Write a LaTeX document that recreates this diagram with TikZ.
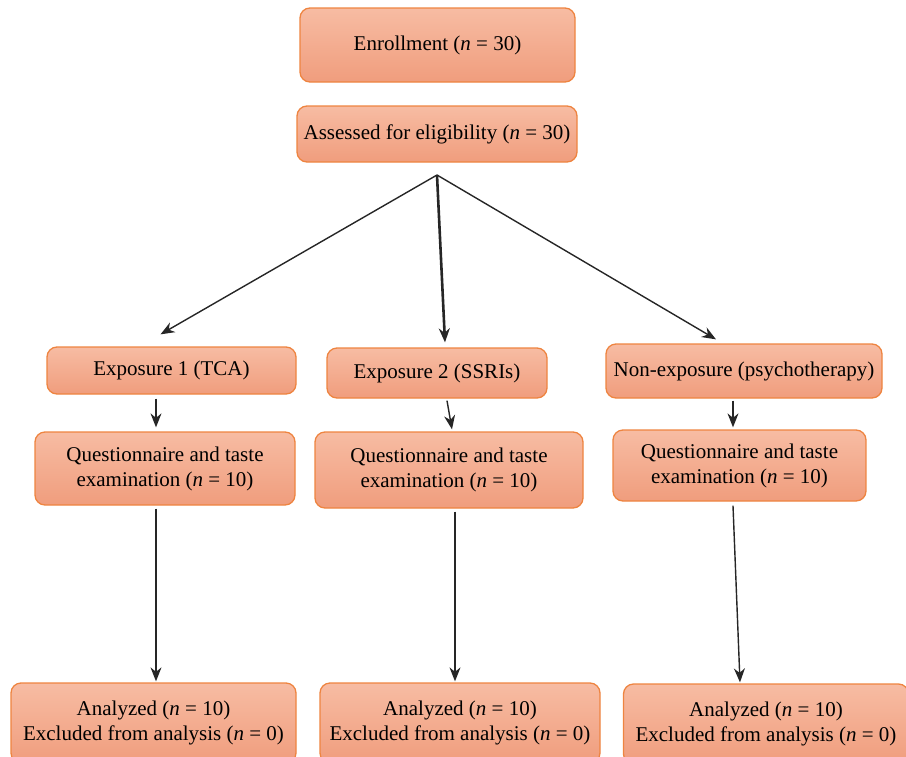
\documentclass[tikz,border=0pt]{standalone}
\usepackage{fontspec}
\setmainfont{Liberation Serif}
\usepackage{tikz}
\usetikzlibrary{arrows.meta, calc}

\definecolor{boxtop}{HTML}{F7BCA3}
\definecolor{boxbot}{HTML}{F09D7D}
\definecolor{boxedge}{HTML}{EE8440}

\tikzset{
  stage/.style={rectangle, rounded corners=10pt, draw=boxedge, line width=1.3pt,
    top color=boxtop, bottom color=boxbot, align=center, inner sep=0pt,
    font=\fontsize{21}{25}\selectfont},
  flow/.style={draw=black!85, line width=1.4pt, -{Stealth[length=14pt,width=11pt]}},
}

\begin{document}
\begin{tikzpicture}[x=1pt,y=-1pt]
    \useasboundingbox (0,0) rectangle (906,756);

    \node[stage, minimum width=275pt, minimum height=74pt] (enroll) at (437.5,45) {Enrollment (\textit{n} = 30)};
    \node[stage, minimum width=280pt, minimum height=56pt] (assess) at (437,134) {Assessed for eligibility (\textit{n} = 30)};
    \coordinate (split) at (437,175);

    \node[stage, minimum width=249pt, minimum height=47pt] (exp1) at (171.5,370.5) {Exposure 1 (TCA)};
    \node[stage, minimum width=220pt, minimum height=50pt] (exp2) at (437,373) {Exposure 2 (SSRIs)};
    \node[stage, minimum width=276pt, minimum height=54pt] (nonexp) at (744,371) {Non-exposure (psychotherapy)};

    \node[stage, minimum width=260pt, minimum height=73pt] (quest1) at (165,468.5) {Questionnaire and taste\\examination (\textit{n} = 10)};
    \node[stage, minimum width=268pt, minimum height=76pt] (quest2) at (449,470) {Questionnaire and taste\\examination (\textit{n} = 10)};
    \node[stage, minimum width=253pt, minimum height=71pt] (quest3) at (739.5,465.5) {Questionnaire and taste\\examination (\textit{n} = 10)};

    \node[stage, minimum width=285pt, minimum height=80pt] (anal1) at (153.5,723) {Analyzed (\textit{n} = 10)\\Excluded from analysis (\textit{n} = 0)};
    \node[stage, minimum width=280pt, minimum height=80pt] (anal2) at (460,723) {Analyzed (\textit{n} = 10)\\Excluded from analysis (\textit{n} = 0)};
    \node[stage, minimum width=285pt, minimum height=80pt] (anal3) at (766,724) {Analyzed (\textit{n} = 10)\\Excluded from analysis (\textit{n} = 0)};

    % split to the three groups
    \draw[flow] (split) -- ([xshift=-11pt,yshift=12pt]exp1.north);
    \draw[flow, line width=2.6pt] (split) -- ([xshift=8pt,yshift=5pt]exp2.north);
    \draw[flow] (split) -- ([xshift=-28pt,yshift=4pt]nonexp.north);

    % group to questionnaire
    \draw[flow] ([xshift=-15.5pt,yshift=-4pt]exp1.south) -- ([xshift=-9pt,yshift=4pt]quest1.north);
    \draw[flow] ([xshift=10pt,yshift=-2pt]exp2.south) -- ([xshift=3pt,yshift=2pt]quest2.north);
    \draw[flow] ([xshift=-11pt,yshift=-2pt]nonexp.south) -- ([xshift=-6.5pt,yshift=2pt]quest3.north);

    % questionnaire to analysis
    \draw[flow] ([xshift=-9pt,yshift=-3pt]quest1.south) -- ([xshift=2.5pt,yshift=1pt]anal1.north);
    \draw[flow] ([xshift=6pt,yshift=-3pt]quest2.south) -- ([xshift=-5pt,yshift=1pt]anal2.north);
    \draw[flow] ([xshift=-6.5pt,yshift=-4pt]quest3.south) -- ([xshift=-26pt,yshift=1pt]anal3.north);
\end{tikzpicture}
\end{document}
